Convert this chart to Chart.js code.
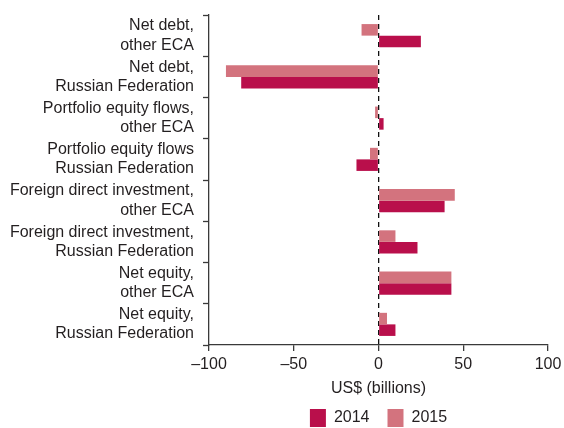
<!DOCTYPE html>
<html>
<head>
<meta charset="utf-8">
<script src="https://cdn.jsdelivr.net/npm/chart.js@4"></script>
<style>
  html, body { margin: 0; padding: 0; background: #fff; }
</style>
</head>
<body>
<canvas id="chart" width="564" height="428"></canvas>
<script>
// categories, top to bottom
const categories = [
    ['Net debt,', 'other ECA'],
    ['Net debt,', 'Russian Federation'],
    ['Portfolio equity flows,', 'other ECA'],
    ['Portfolio equity flows', 'Russian Federation'],
    ['Foreign direct investment,', 'other ECA'],
    ['Foreign direct investment,', 'Russian Federation'],
    ['Net equity,', 'other ECA'],
    ['Net equity,', 'Russian Federation']
];
const values2014 = [25, -81, 3, -13, 39, 23, 43, 10];
const values2015 = [-10, -90, -2, -5, 45, 10, 43, 5];
const xTicks = [-100, -50, 0, 50, 100];

const textColor = '#231f20';
const axisColor = '#3a3a3a';
Chart.defaults.font.family = '"Liberation Sans", Arial, Helvetica, sans-serif';
Chart.defaults.font.size = 16;
Chart.defaults.color = textColor;

new Chart(document.getElementById('chart'), {
    type: 'bar',
    data: {
        labels: categories,
        datasets: [
            // 2015 is drawn above 2014 in each row
            { label: '2015', data: values2015, backgroundColor: '#d3737e', borderWidth: 0 },
            { label: '2014', data: values2014, backgroundColor: '#b90f4b', borderWidth: 0 }
        ]
    },
    options: {
        indexAxis: 'y',
        responsive: false,
        animation: false,
        layout: { padding: { top: 15, right: 16, left: 0, bottom: -9 } },
        datasets: { bar: { categoryPercentage: 0.56, barPercentage: 1.0 } },
        plugins: {
            tooltip: { enabled: false },
            legend: {
                position: 'bottom',
                fullSize: false,
                labels: {
                    boxWidth: 16,
                    boxHeight: 18,
                    padding: 18,
                    color: textColor,
                    font: { size: 16 },
                    sort: (a, b) => b.datasetIndex - a.datasetIndex
                }
            }
        },
        scales: {
            x: {
                min: -100,
                max: 100,
                afterBuildTicks: scale => { scale.ticks = xTicks.map(v => ({ value: v })); },
                afterFit: scale => {
                    scale.height = 46;
                    scale.paddingLeft = 0;
                    scale.paddingRight = 0;
                },
                ticks: {
                    color: textColor,
                    padding: 4,
                    maxRotation: 0,
                    callback: v => (v < 0 ? '\u2013' + Math.abs(v) : '' + v)
                },
                grid: {
                    drawOnChartArea: true,
                    color: ctx => (ctx.tick && ctx.tick.value === 0 ? '#111' : 'rgba(0,0,0,0)'),
                    lineWidth: 1.3,
                    tickColor: axisColor,
                    tickLength: 6,
                    tickWidth: 1.3
                },
                border: { color: axisColor, width: 1.3, dash: [5, 4] },
                title: {
                    display: true,
                    text: 'US$ (billions)',
                    color: textColor,
                    font: { size: 16 },
                    padding: { top: 0, bottom: -7 }
                }
            },
            y: {
                afterFit: scale => {
                    scale.width = 209;
                    scale.paddingTop = 0;
                    scale.paddingBottom = 0;
                },
                ticks: { color: textColor, padding: 9, autoSkip: false, font: { size: 16, lineHeight: 1.2 } },
                grid: {
                    offset: true,
                    drawOnChartArea: false,
                    color: 'rgba(0,0,0,0)',
                    tickColor: axisColor,
                    tickLength: 6,
                    tickWidth: 1.3
                },
                border: { color: axisColor, width: 1.3 }
            }
        }
    }
});
</script>
</body>
</html>
